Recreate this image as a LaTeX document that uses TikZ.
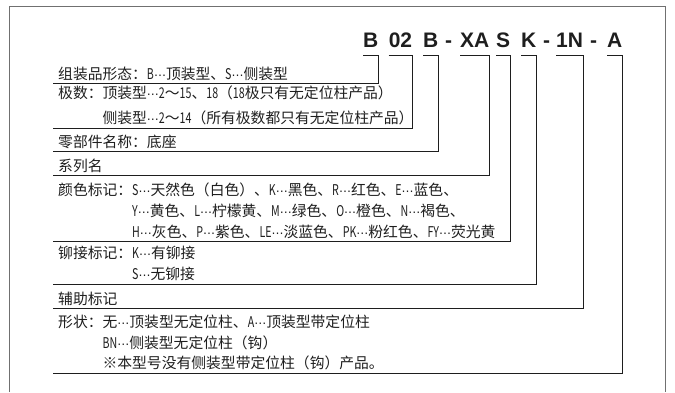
\documentclass[tikz,border=0pt]{standalone}
\usepackage{fontspec}
\setmainfont{Noto Sans CJK SC}
\newfontfamily\latnfont[FakeStretch=0.72]{Noto Sans CJK SC}
\newfontfamily\dotsfont{DejaVu Sans}
\newfontfamily\codefont{Liberation Sans}
\newcommand\ltn[1]{{\latnfont #1}}
\newcommand\ellip{{\dotsfont\fontsize{12}{14}\selectfont ⋯}}
\usepackage{xcolor}
\definecolor{ink}{HTML}{1E1E1E}
\definecolor{framegray}{HTML}{707070}

\begin{document}
\begin{tikzpicture}[x=1pt,y=-1pt,
    txt/.style={anchor=base west, inner sep=0pt, text=ink, font=\fontsize{14.8}{16}\selectfont},
    code/.style={anchor=base west, inner sep=0pt, text=ink, font=\codefont\bfseries\fontsize{21}{24}\selectfont},
    lead/.style={draw=ink, line width=0.8pt}]
    \useasboundingbox (0,0) rectangle (675,392);

    % Outer frame (open at the bottom)
    \draw[framegray, line width=1pt] (9,392) -- (9,6) -- (665,6) -- (665,392);

    % Model code
    \node[code] (cB1) at (363,47) {B};
    \node[code] (c02) at (388.6,47) {02};
    \node[code] (cB2) at (423,47) {B};
    \node[code] (d1) at (445,47) {-};
    \node[code] (cXA) at (460,47) {XA};
    \node[code] (cS) at (496,47) {S};
    \node[code] (cK) at (521,47) {K};
    \node[code] (d2) at (543,47) {-};
    \node[code] (c1N) at (556,47) {1N};
    \node[code] (d3) at (590,47) {-};
    \node[code] (cA) at (607,47) {A};

    % Left ends of the row lines
    \coordinate (l1) at (53,83);
    \coordinate (l2) at (53,128);
    \coordinate (l3) at (53,151);
    \coordinate (l4) at (53,175);
    \coordinate (l5) at (53,241);
    \coordinate (l6) at (53,284);
    \coordinate (l7) at (53,308);
    \coordinate (l8) at (53,373);

    % Rows
    \node[txt] (r1) at (58,79) {组装品形态：\ltn{B}\ellip 顶装型、\ltn{S}\ellip 侧装型};
    \node[txt] (r2a) at (58,98) {极数：顶装型\ellip\ltn{2}～\ltn{15}、\ltn{18}（\ltn{18}极只有无定位柱产品）};
    \node[txt] (r2b) at (58,123) {\phantom{极数：}侧装型\ellip\ltn{2}～\ltn{14}（所有极数都只有无定位柱产品）};
    \node[txt] (r3) at (58,147) {零部件名称：底座};
    \node[txt] (r4) at (58,171) {系列名};
    \node[txt] (r5a) at (58,195) {颜色标记：\ltn{S}\ellip 天然色（白色）、\ltn{K}\ellip 黑色、\ltn{R}\ellip 红色、\ltn{E}\ellip 蓝色、};
    \node[txt] (r5b) at (58,216) {\phantom{颜色标记：}\ltn{Y}\ellip 黄色、\ltn{L}\ellip 柠檬黄、\ltn{M}\ellip 绿色、\ltn{O}\ellip 橙色、\ltn{N}\ellip 褐色、};
    \node[txt] (r5c) at (58,237) {\phantom{颜色标记：}\ltn{H}\ellip 灰色、\ltn{P}\ellip 紫色、\ltn{LE}\ellip 淡蓝色、\ltn{PK}\ellip 粉红色、\ltn{FY}\ellip 荧光黄};
    \node[txt] (r6a) at (58,258) {铆接标记：\ltn{K}\ellip 有铆接};
    \node[txt] (r6b) at (58,279) {\phantom{铆接标记：}\ltn{S}\ellip 无铆接};
    \node[txt] (r7) at (58,304) {辅助标记};
    \node[txt] (r8a) at (58,327) {形状：无\ellip 顶装型无定位柱、\ltn{A}\ellip 顶装型带定位柱};
    \node[txt] (r8b) at (58,348) {\phantom{形状：}\ltn{BN}\ellip 侧装型无定位柱（钩）};
    \node[txt] (r8c) at (58,368) {\phantom{形状：}※本型号没有侧装型带定位柱（钩）产品。};

    % Leaders from code to rows
    \draw[lead] ([yshift=-8pt]cB1.base west) -- ([yshift=-8pt]cB1.base east) |- (l1);
    \draw[lead] ([yshift=-8pt]c02.base west) -- ([yshift=-8pt]c02.base east) |- (l2);
    \draw[lead] ([yshift=-8pt]cB2.base west) -- ([yshift=-8pt]cB2.base east) |- (l3);
    \draw[lead] ([yshift=-8pt]cXA.base west) -- ([yshift=-8pt]cXA.base east) |- (l4);
    \draw[lead] ([yshift=-8pt]cS.base west) -- ([yshift=-8pt]cS.base east) |- (l5);
    \draw[lead] ([yshift=-8pt]cK.base west) -- ([yshift=-8pt]cK.base east) |- (l6);
    \draw[lead] ([yshift=-8pt]c1N.base west) -- ([yshift=-8pt]c1N.base east) |- (l7);
    \draw[lead] ([yshift=-8pt]cA.base west) -- ([yshift=-8pt]cA.base east) |- (l8);
\end{tikzpicture}
\end{document}
